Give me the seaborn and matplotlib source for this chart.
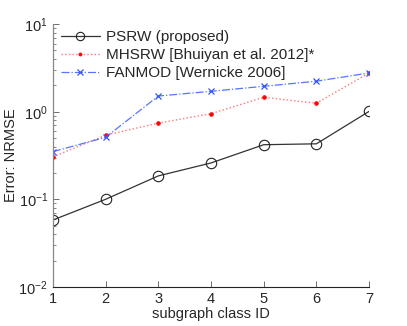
import seaborn as sns
import pandas as pd
import matplotlib.pyplot as plt
from matplotlib.ticker import LogLocator, NullFormatter

class_id = [1, 2, 3, 4, 5, 6, 7]
psrw = [0.058, 0.10, 0.185, 0.26, 0.42, 0.43, 1.01]
mhsrw = [0.305, 0.54, 0.74, 0.95, 1.46, 1.25, 2.77]
fanmod = [0.35, 0.51, 1.51, 1.71, 1.95, 2.23, 2.77]

labels = ['PSRW (proposed)', 'MHSRW [Bhuiyan et al. 2012]*', 'FANMOD [Wernicke 2006]']

df = pd.DataFrame({
    'class': class_id * 3,
    'err': psrw + mhsrw + fanmod,
    'method': [labels[0]] * 7 + [labels[1]] * 7 + [labels[2]] * 7,
})

sns.set_style('white')
plt.rcParams['font.family'] = ['Liberation Sans', 'DejaVu Sans']

fig = plt.figure(figsize=(4.07, 3.26), dpi=100)
ax = fig.add_axes([0.130, 0.120, 0.777, 0.806])

styles = {
    labels[0]: dict(color='#333333', ls='-', marker='o', ms=7.5, mfc='none', mec='#222222', mew=0.8, lw=0.9),
    labels[1]: dict(color='#ff7777', ls=':', marker='.', ms=5, mfc='red', mec='red', lw=1.0),
    labels[2]: dict(color='#5577ff', ls='-.', marker='x', ms=5, mec='#3355ff', mew=0.9, lw=0.9),
}
for m in labels:
    sub = df[df['method'] == m]
    sns.lineplot(data=sub, x='class', y='err', ax=ax, label=m, **styles[m])

ax.set_yscale('log')
ax.set_ylim(1e-2, 1e1)
ax.set_xlim(1, 7)
ax.set_xticks(class_id)
ax.yaxis.set_minor_locator(LogLocator(base=10, subs=range(2, 10)))
ax.yaxis.set_minor_formatter(NullFormatter())
ax.tick_params(axis='both', which='major', direction='in', length=4, width=0.6,
               labelsize=10.5, left=True, bottom=True, color='#555555')
ax.tick_params(axis='y', which='minor', direction='in', length=2, width=0.5, left=True, color='#555555')
ax.set_xlabel('subgraph class ID', fontsize=10.5, labelpad=1)
ax.set_ylabel('Error: NRMSE', fontsize=10.5, labelpad=0)
for s in ['top', 'right']:
    ax.spines[s].set_visible(False)
ax.spines['left'].set_color('#888888')
ax.spines['bottom'].set_color('#222222')
ax.spines['left'].set_linewidth(0.9)
ax.spines['bottom'].set_linewidth(0.8)

leg = ax.legend(loc='upper left', frameon=False, fontsize=11, handlelength=2.6,
                handletextpad=0.35, borderaxespad=0.0, labelspacing=0.25,
                markerscale=0.8, bbox_to_anchor=(0.005, 1.0))

fig.savefig('out.png', dpi=100)
